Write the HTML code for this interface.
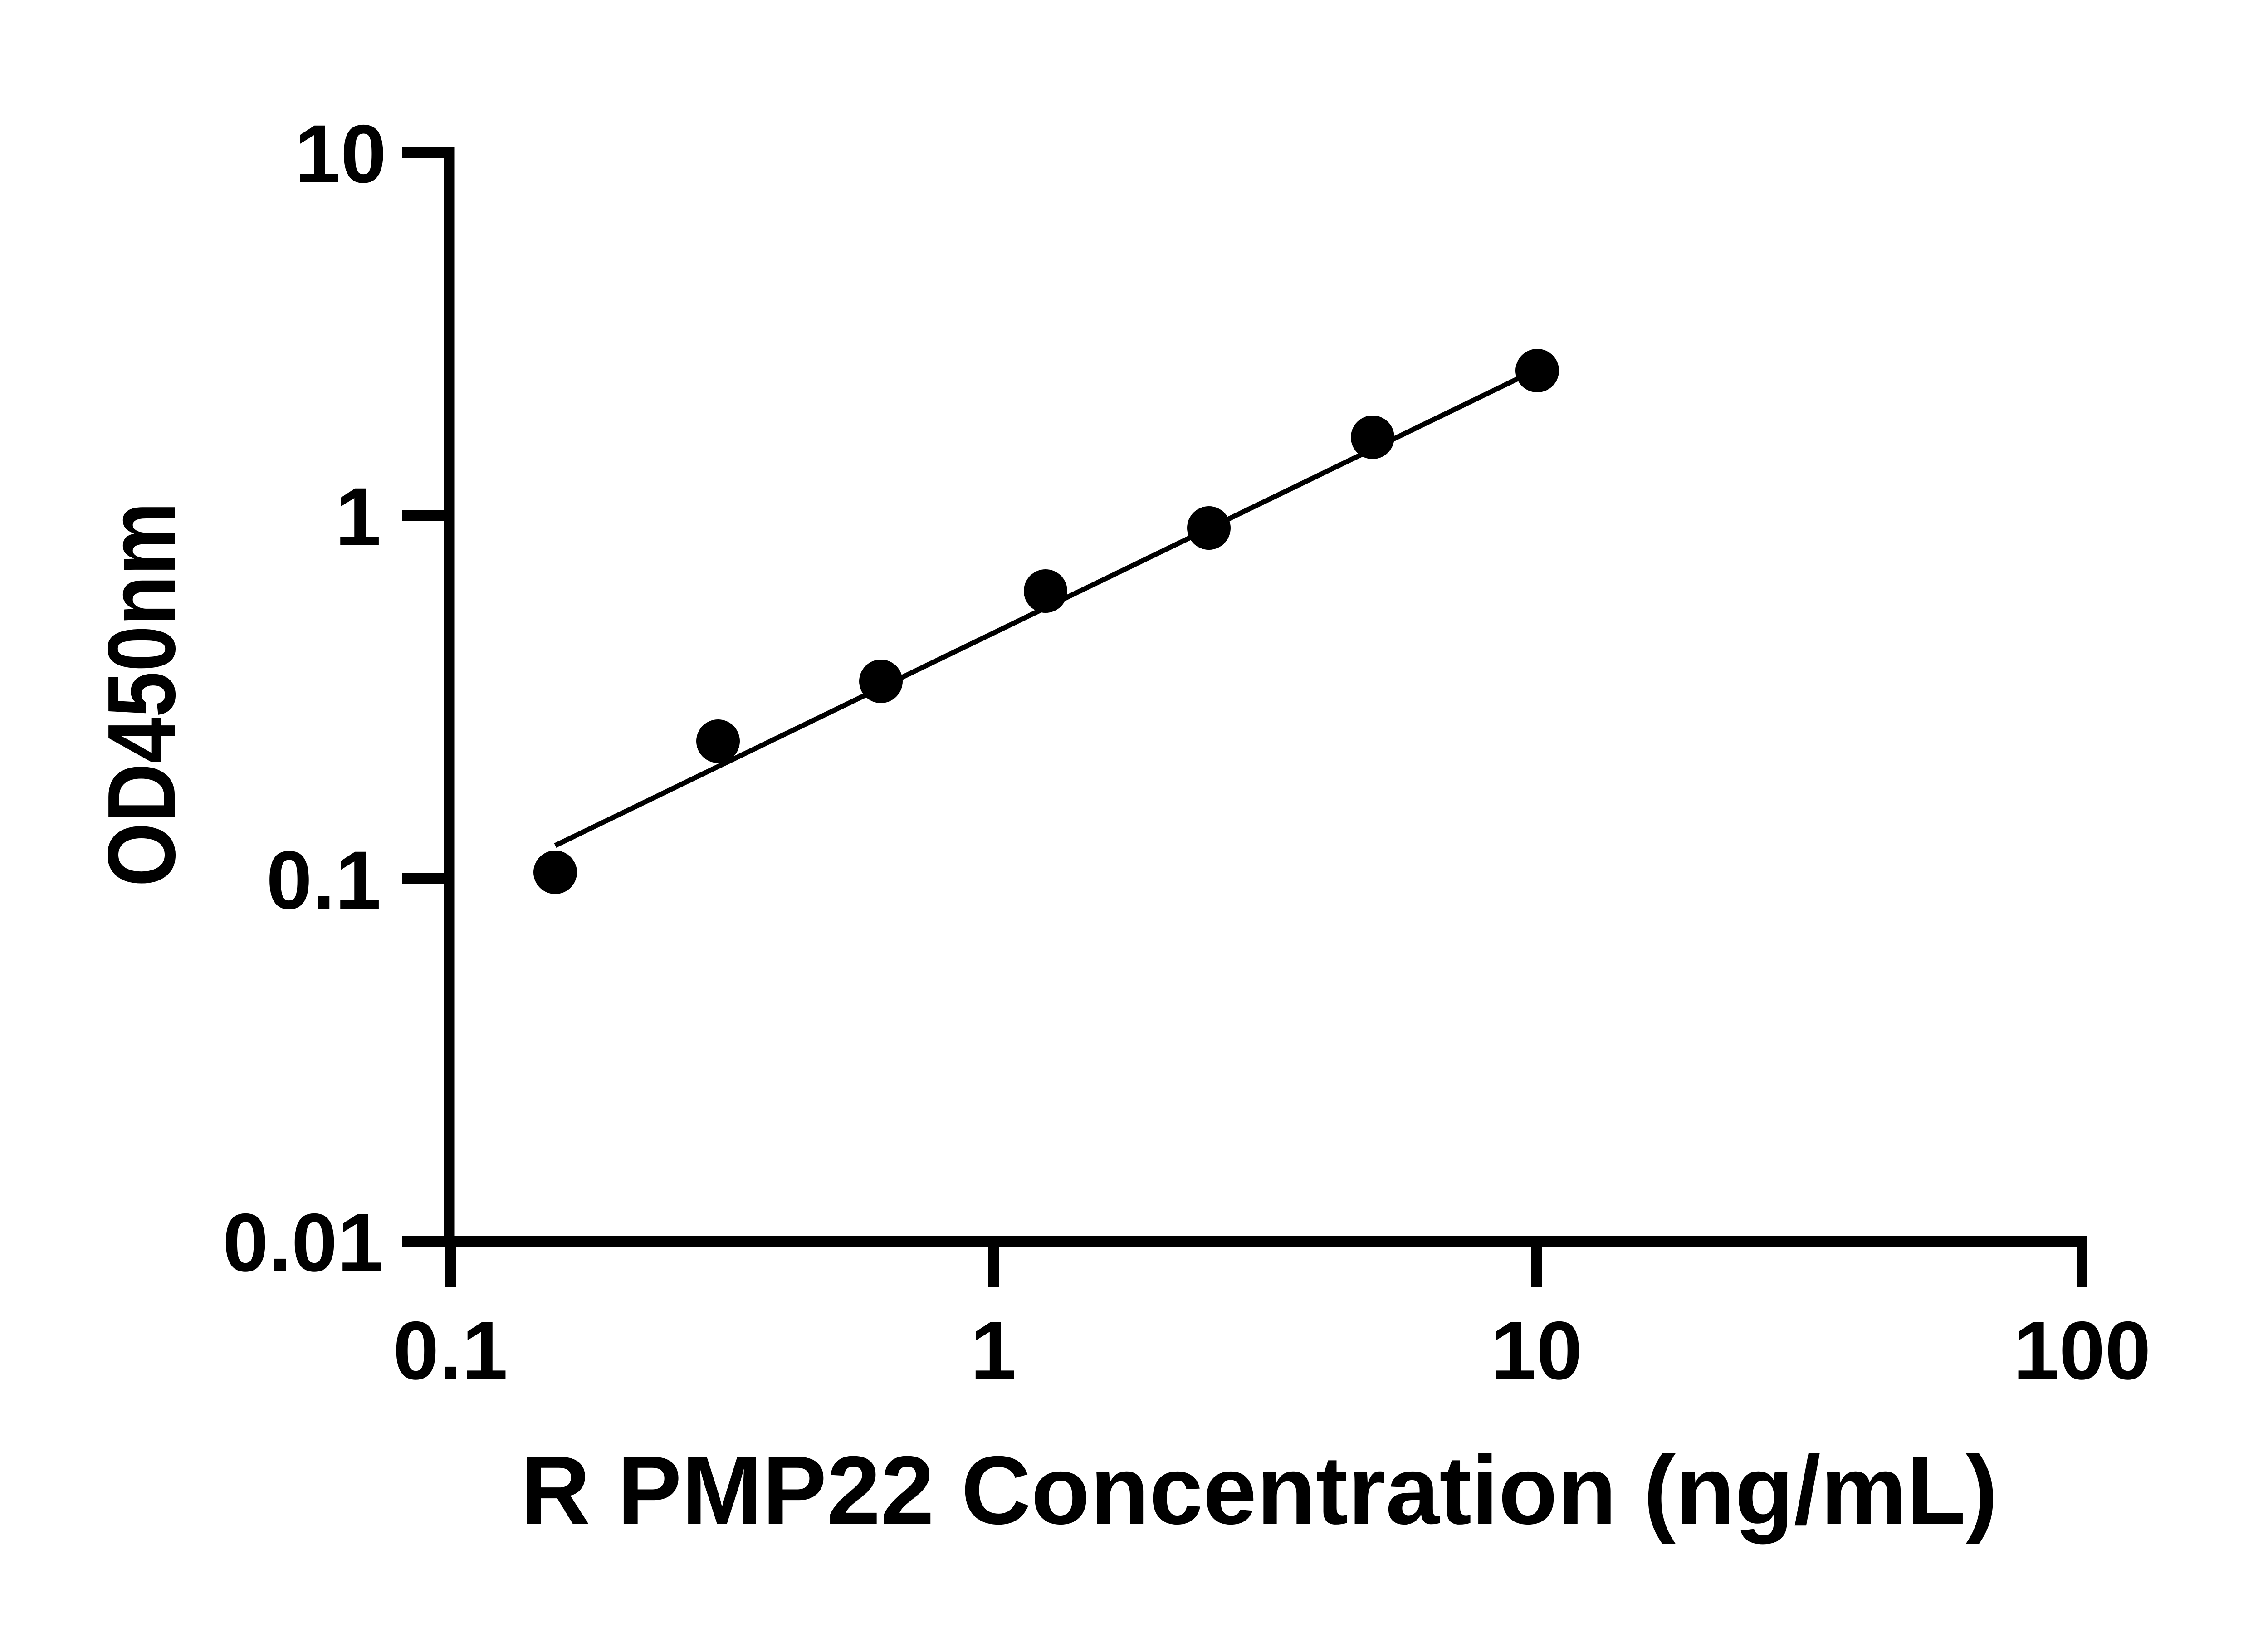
<!DOCTYPE html>
<html><head><meta charset="utf-8"><style>html,body{margin:0;padding:0;background:#fff}svg{display:block}</style></head>
<body>
<svg width="5142" height="3600" viewBox="0 0 5142 3600" xmlns="http://www.w3.org/2000/svg" font-family="Liberation Sans, Arial, sans-serif" font-weight="bold">
<rect width="5142" height="3600" fill="#fff"/>
<g stroke="#000" fill="none" stroke-linecap="butt">
<line x1="990" y1="323" x2="990" y2="2748" stroke-width="23"/>
<line x1="978" y1="2736" x2="4601" y2="2736" stroke-width="24"/>
<g stroke-width="24">
<line x1="887" y1="336" x2="1001" y2="336"/>
<line x1="887" y1="1137" x2="1001" y2="1137"/>
<line x1="887" y1="1937" x2="1001" y2="1937"/>
<line x1="887" y1="2736" x2="1001" y2="2736"/>
<line x1="993" y1="2724" x2="993" y2="2837"/>
<line x1="2190" y1="2724" x2="2190" y2="2837"/>
<line x1="3387" y1="2724" x2="3387" y2="2837"/>
<line x1="4590" y1="2724" x2="4590" y2="2837"/>
</g>
<line x1="1224" y1="1864" x2="3348" y2="834" stroke-width="11"/>
</g>
<g fill="#000">
<circle cx="1224" cy="1923" r="48"/>
<circle cx="1583" cy="1634" r="48"/>
<circle cx="1942" cy="1502" r="48"/>
<circle cx="2305" cy="1303" r="48"/>
<circle cx="2665" cy="1164" r="48"/>
<circle cx="3026" cy="964" r="48"/>
<circle cx="3389" cy="817" r="48"/>
</g>
<g font-size="182" text-anchor="end" fill="#000">
<text x="852" y="402">10</text>
<text x="840" y="1202">1</text>
<text x="840" y="2003">0.1</text>
<text x="845" y="2802">0.01</text>
</g>
<g font-size="182" text-anchor="middle" fill="#000">
<text x="993" y="3040">0.1</text>
<text x="2190" y="3040">1</text>
<text x="3387" y="3040">10</text>
<text x="4590" y="3040">100</text>
</g>
<text x="2776" y="3359" font-size="214" text-anchor="middle" textLength="3257" lengthAdjust="spacingAndGlyphs">R PMP22 Concentration (ng/mL)</text>
<text transform="translate(385,1531) rotate(-90)" font-size="212" text-anchor="middle" textLength="848" lengthAdjust="spacingAndGlyphs">OD450nm</text>
</svg>
</body></html>
